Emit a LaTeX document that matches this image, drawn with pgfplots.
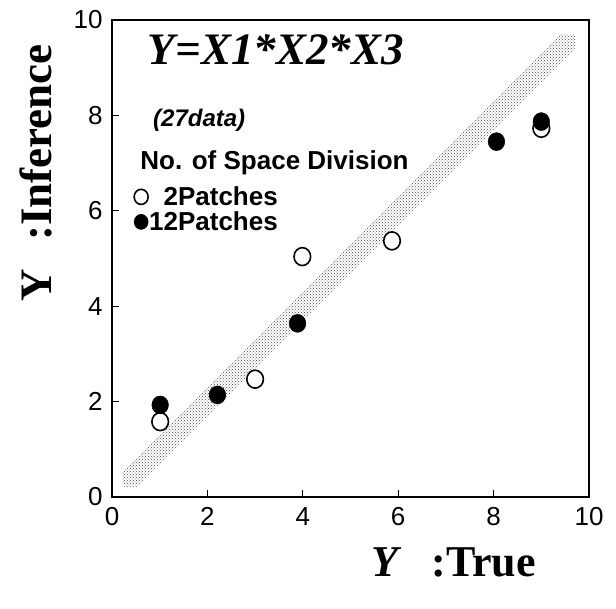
\documentclass[border=0pt]{standalone}
\usepackage{fontspec}
\setmainfont{Liberation Serif}
\setsansfont{Liberation Sans}
\usepackage{pgfplots}
\pgfplotsset{compat=1.18}
\usetikzlibrary{patterns}

% measured values: inferred Y versus true Y
\pgfplotstableread{
x     y
1.01  1.58
3.00  2.47
3.99  5.04
5.87  5.37
9.00  7.73
}\twopatches
\pgfplotstableread{
x     y
1.01  1.93
2.21  2.14
3.89  3.64
8.06  7.45
9.00  7.87
}\twelvepatches

\begin{document}
\begin{tikzpicture}[x=1pt,y=1pt]
\begin{axis}[
  at={(112pt,111pt)}, anchor=south west,
  width=477pt, height=477pt, scale only axis,
  xmin=0, xmax=10, ymin=0, ymax=10,
  xtick={0,2,...,10}, ytick={0,2,...,10},
  tick align=inside, xtick pos=bottom, ytick pos=left,
  major tick length=7pt,
  tick style={line width=1pt, black},
  axis line style={line width=1.3pt},
  /pgf/number format/assume math mode=true,
  ticklabel style={font=\sffamily\fontsize{26}{26}\selectfont},
  xticklabel style={yshift=-7pt},
  yticklabel style={xshift=-6pt},
  clip=false,
  legend style={at={(axis cs:0.46,6.03)}, anchor=west, draw=none, fill=none,
    inner sep=0pt, row sep=5pt,
    font=\sffamily\bfseries\fontsize{26}{26}\selectfont,
    nodes={inner sep=1pt, text height=18pt, text depth=0pt}},
  legend cell align=left,
  legend image code/.code={\draw[#1, mark size=7pt] plot coordinates {(0pt,0pt)};},
]
% shaded band around the ideal line Y_inf = Y_true
\addplot[draw=none, pattern=crosshatch dots, pattern color=black!70, forget plot]
  coordinates {(0.20,0.50) (0.25,0.22) (0.52,0.22) (9.71,9.41) (9.71,9.71) (9.42,9.71)} -- cycle;

\addplot[only marks, mark=*, mark size=8.3pt,
  mark options={fill=white, draw=black, line width=1.6pt, yscale=1.08}]
  table[x=x, y=y] {\twopatches};
\addlegendentry{\hphantom{1}2Patches}

\addplot[only marks, mark=*, mark size=8.3pt,
  mark options={fill=black, draw=black, line width=0.5pt, yscale=1.08}]
  table[x=x, y=y] {\twelvepatches};
\addlegendentry{12Patches}

\node[anchor=west, inner sep=0pt, font=\bfseries\itshape\fontsize{45}{45}\selectfont]
  at (axis cs:0.75,9.37) {Y=X1*X2*X3};
\node[anchor=west, inner sep=0pt, font=\sffamily\bfseries\itshape\fontsize{24}{24}\selectfont]
  at (axis cs:0.86,7.9) {(27data)};
\node[anchor=west, inner sep=0pt, font=\sffamily\bfseries\fontsize{26}{26}\selectfont]
  at (axis cs:0.59,7.0) {No. of Space Division};

\node[anchor=center, inner sep=0pt, font=\bfseries\fontsize{44}{44}\selectfont]
  at (axis description cs:0.716,-0.138) {\textit{Y}\hspace{30pt}:True};
\node[anchor=center, rotate=90, inner sep=0pt, font=\bfseries\fontsize{45}{45}\selectfont]
  at (axis description cs:-0.16,0.68) {Y\hspace{28pt}:Inference};
\end{axis}
\pgfresetboundingbox
\path[use as bounding box] (0,0) rectangle (616pt,608pt);
\end{tikzpicture}
\end{document}
